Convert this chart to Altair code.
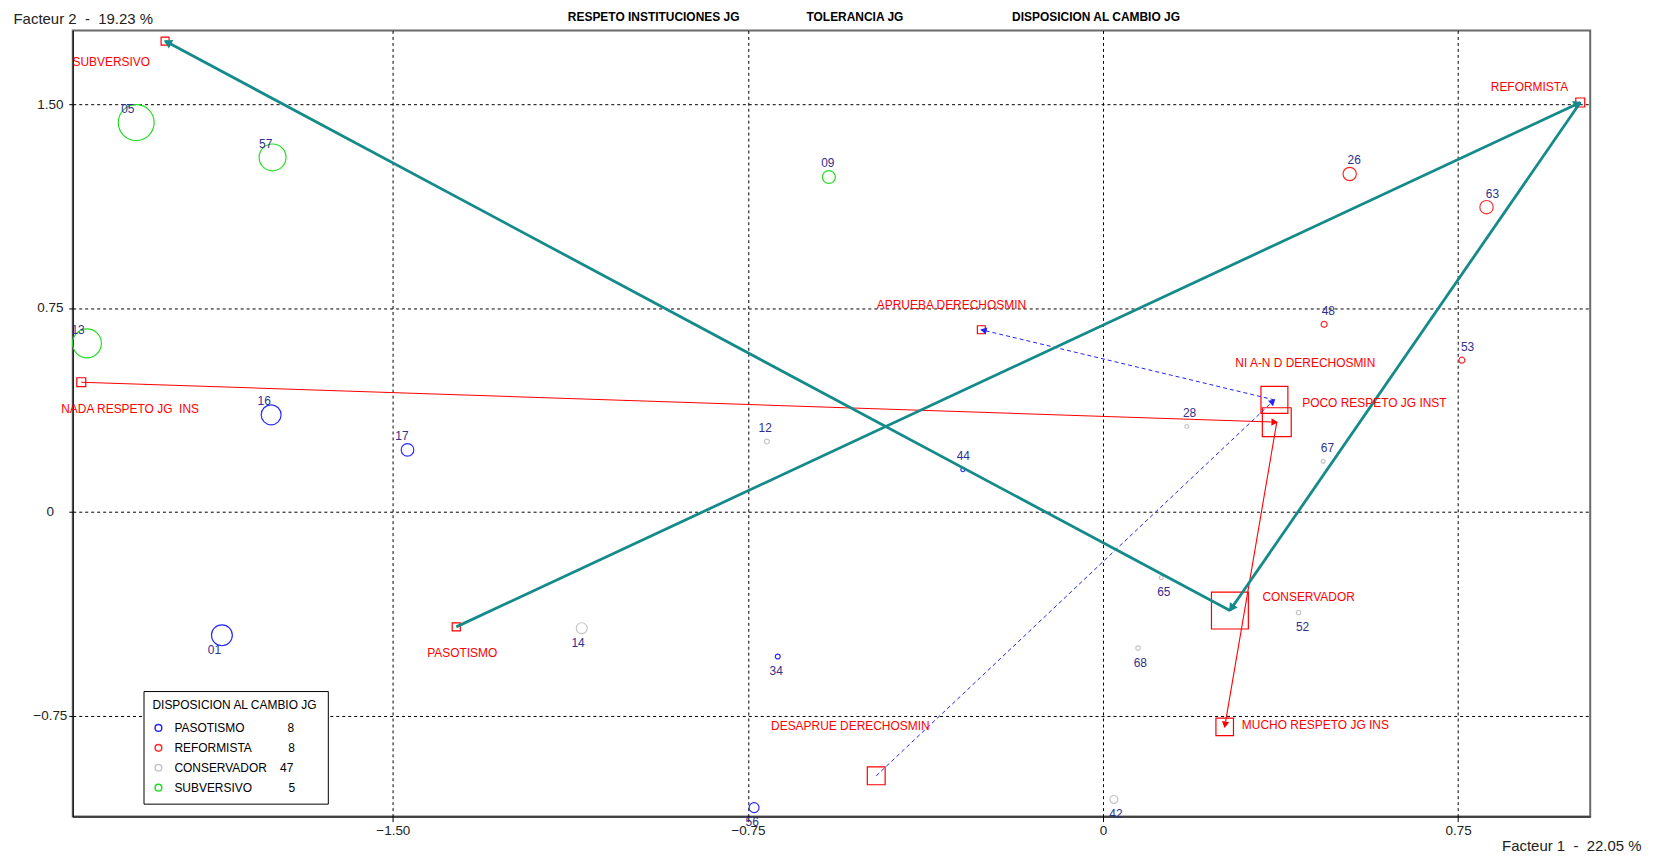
import math
import altair as alt
import pandas as pd

# ------------------------------------------------------------------ data
# modalities (red squares) of the three active variables
cat_names = ["SUBVERSIVO", "REFORMISTA", "PASOTISMO", "CONSERVADOR",
             "APRUEBA DERECHOSMIN", "NI A-N D DERECHOSMIN", "DESAPRUE DERECHOSMIN",
             "NADA RESPETO JG\u00a0 INS", "POCO RESPETO JG INST", "MUCHO RESPETO JG INS"]
cat_x = [-1.981, 1.008, -1.366, 0.268, -0.257, 0.362, -0.479, -2.158, 0.367, 0.257]
cat_y = [1.732, 1.506, -0.423, -0.363, 0.670, 0.412, -0.971, 0.477, 0.330, -0.791]
cat_peso = [6.4, 8.1, 6.7, 137.0, 6.4, 73.0, 32.0, 8.1, 84.0, 31.0]
# label offsets (px) relative to the square
cat_lab_dx = [-54, -51, 6, 79, -30, 31, -26, 49, 98, 91]
cat_lab_dy = [21, -16, 26, -14, -25, -37, -50, 27, -19, -2]

# individuals (circles)
pt_ids = ["05", "57", "09", "13", "16", "17", "01", "14", "12", "34", "56",
          "42", "44", "28", "67", "53", "48", "26", "63", "65", "52", "68"]
pt_group = ["SUBVERSIVO", "SUBVERSIVO", "SUBVERSIVO", "SUBVERSIVO", "PASOTISMO",
            "PASOTISMO", "PASOTISMO", "CONSERVADOR", "CONSERVADOR", "PASOTISMO",
            "PASOTISMO", "CONSERVADOR", "PASOTISMO", "CONSERVADOR", "CONSERVADOR",
            "REFORMISTA", "REFORMISTA", "REFORMISTA", "REFORMISTA", "CONSERVADOR",
            "CONSERVADOR", "CONSERVADOR"]
pt_x = [-2.042, -1.754, -0.579, -2.146, -1.757, -1.469, -1.861, -1.101, -0.710, -0.687,
        -0.737, 0.023, -0.296, 0.177, 0.465, 0.758, 0.467, 0.521, 0.810, 0.123, 0.413, 0.074]
pt_y = [1.432, 1.304, 1.232, 0.620, 0.357, 0.228, -0.454, -0.428, 0.259, -0.532,
        -1.088, -1.058, 0.155, 0.314, 0.186, 0.558, 0.690, 1.243, 1.121, -0.242, -0.370, -0.501]
pt_peso = [324, 182, 42, 210, 100, 40, 110, 30, 6, 6, 25, 16, 4, 4, 4, 9, 9, 45, 45, 4, 5, 5]
pt_side = ["above", "above", "above", "above", "above", "above", "below", "below", "above",
           "below", "below", "below", "above", "above", "above", "above", "above", "above",
           "above", "below", "below", "below"]

group_order = ["PASOTISMO", "REFORMISTA", "CONSERVADOR", "SUBVERSIVO"]
group_n = [8, 8, 47, 5]
group_colors = ["#2a2aff", "#ff2a2a", "#c6c6c6", "#22dd22"]

path_cambio = ["PASOTISMO", "REFORMISTA", "CONSERVADOR", "SUBVERSIVO"]
path_respeto = ["NADA RESPETO JG\u00a0 INS", "POCO RESPETO JG INST", "MUCHO RESPETO JG INS"]
path_tolerancia = ["DESAPRUE DERECHOSMIN", "NI A-N D DERECHOSMIN", "APRUEBA DERECHOSMIN"]

top_titles = ["RESPETO INSTITUCIONES JG", "TOLERANCIA JG", "DISPOSICION AL CAMBIO JG"]
x_ticks = [-1.5, -0.75, 0, 0.75]
y_ticks = [-0.75, 0, 0.75, 1.5]
NB = "\u00a0"
x_title = "Facteur 1" + NB * 2 + "-" + NB * 2 + "22.05 %"
y_title = "Facteur 2" + NB * 2 + "-" + NB * 2 + "19.23 %"

# ------------------------------------------------------------------ geometry
W, H = 1523, 789
XMIN, XMAX = -2.176, 1.029
YMIN, YMAX = -1.121, 1.771
PXX = W / (XMAX - XMIN)
PXY = H / (YMAX - YMIN)
xs = alt.Scale(domain=[XMIN, XMAX], nice=False, zero=False)
ys = alt.Scale(domain=[YMIN, YMAX], nice=False, zero=False)

FONT = "Liberation Sans, Arial, sans-serif"

cats = pd.DataFrame({"name": cat_names, "x": cat_x, "y": cat_y, "peso": cat_peso})
cats["lx"] = cats["x"] + pd.Series(cat_lab_dx) / PXX
cats["ly"] = cats["y"] - pd.Series(cat_lab_dy) / PXY
cpos = {n: (x, y) for n, x, y in zip(cat_names, cat_x, cat_y)}

pts = pd.DataFrame({"id": pt_ids, "grupo": pt_group, "x": pt_x, "y": pt_y,
                    "peso": pt_peso, "side": pt_side})
dxp = 5.05 * pts["x"] + 1.9
dyp = pts["side"].map({"above": -13.6, "below": 14.6})
pts["lx"] = pts["x"] + dxp / PXX
pts["ly"] = pts["y"] - dyp / PXY


def segments(path, head):
    segs, heads = [], []
    r = math.sqrt(head) / 2
    for a, b in zip(path[:-1], path[1:]):
        x1, y1 = cpos[a]
        x2, y2 = cpos[b]
        segs.append({"x": x1, "y": y1, "x2": x2, "y2": y2})
        dx = (x2 - x1) * PXX
        dy = -(y2 - y1) * PXY
        L = math.hypot(dx, dy)
        ux, uy = dx / L, dy / L
        back = 0.866 * r
        hx = x2 - ux * back / PXX
        hy = y2 + uy * back / PXY
        ang = math.degrees(math.atan2(dx, -dy)) % 360
        heads.append({"x": hx, "y": hy, "ang": ang})
    return pd.DataFrame(segs), pd.DataFrame(heads)


seg_c, head_c = segments(path_cambio, 90)
seg_r, head_r = segments(path_respeto, 55)
seg_t, head_t = segments(path_tolerancia, 55)

# ------------------------------------------------------------------ axes / legend
x_axis = alt.Axis(values=x_ticks, grid=True, gridColor="black", gridDash=[3, 3], gridWidth=1,
                  domainColor="black", tickColor="black", tickSize=5,
                  labelFont=FONT, labelFontSize=13.5, labelColor="#222", labelPadding=2,
                  labelExpr="datum.value == 0 ? '0' : format(datum.value, '.2f')",
                  title=x_title, titleFont=FONT, titleFontSize=15,
                  titleFontWeight="normal", titleColor="#222", titleX=1434, titleY=29,
                  titleAlign="left", titleBaseline="middle")
y_axis = alt.Axis(values=y_ticks, grid=True, gridColor="black", gridDash=[3, 3], gridWidth=1,
                  domainColor="black", tickColor="black", tickSize=4,
                  labelFont=FONT, labelFontSize=13.5, labelColor="#222", labelPadding=19,
                  labelAlign="center", labelBaseline="middle",
                  labelExpr="datum.value == 0 ? '0' : format(datum.value, '.2f')",
                  title=y_title, titleFont=FONT, titleFontSize=15,
                  titleFontWeight="normal", titleColor="#222", titleAngle=0, titleX=-60,
                  titleY=-12, titleAlign="left", titleBaseline="middle")

pad_spaces = {"PASOTISMO": 13, "REFORMISTA": 11, "CONSERVADOR": 4, "SUBVERSIVO": 11}
lab_map = {g: g + NB * pad_spaces[g] + str(n) for g, n in zip(group_order, group_n)}
lab_expr = "{" + ",".join(f"'{k}':'{v}'" for k, v in lab_map.items()) + "}[datum.label]"

legend = alt.Legend(title="DISPOSICION AL CAMBIO JG", orient="none", legendX=71, legendY=663,
                    direction="vertical", fillColor="white", strokeColor="black",
                    padding=9, cornerRadius=0,
                    titleFont=FONT, titleFontSize=12, titleFontWeight="normal",
                    titleColor="black", titlePadding=10,
                    labelFont=FONT, labelFontSize=12, labelColor="black", labelOffset=10,
                    symbolType="circle", symbolSize=45, symbolStrokeWidth=1.5,
                    rowPadding=6, labelExpr=lab_expr)


def X(field):
    return alt.X(field, scale=xs, axis=x_axis)


def Y(field):
    return alt.Y(field, scale=ys, axis=y_axis)


# ------------------------------------------------------------------ layers
points = alt.Chart(pts).mark_point(shape="circle", filled=False, strokeWidth=1.2, opacity=1).encode(
    x=X("x:Q"), y=Y("y:Q"),
    color=alt.Color("grupo:N", scale=alt.Scale(domain=group_order, range=group_colors),
                    legend=legend),
    size=alt.Size("peso:Q", scale=alt.Scale(domain=[0, 324], range=[0, 1296]), legend=None),
)

squares = alt.Chart(cats).mark_point(shape="square", filled=False, color="#ff0000",
                                     strokeWidth=1.2, opacity=1).encode(
    x=X("x:Q"), y=Y("y:Q"),
    size=alt.Size("peso:Q", scale=alt.Scale(domain=[0, 137], range=[0, 1370]), legend=None),
)


def seg_layer(df, color, width, dash=None):
    kw = dict(color=color, strokeWidth=width)
    if dash:
        kw["strokeDash"] = dash
    return alt.Chart(df).mark_rule(**kw).encode(
        x=X("x:Q"), y=Y("y:Q"), x2="x2:Q", y2="y2:Q")


def head_layer(df, color, size):
    return alt.Chart(df).mark_point(shape="triangle", filled=True, color=color,
                                    size=size, opacity=1).encode(
        x=X("x:Q"), y=Y("y:Q"), angle=alt.Angle("ang:Q", scale=None))


TEAL = "#148a8a"
lines = [
    seg_layer(seg_r, "#ff0000", 1.1),
    seg_layer(seg_t, "#2222ff", 1.0, [4, 3]),
    seg_layer(seg_c, TEAL, 2.8),
    head_layer(head_r, "#ff0000", 55),
    head_layer(head_t, "#2222ff", 55),
    head_layer(head_c, TEAL, 90),
]

pt_labels = alt.Chart(pts).mark_text(font=FONT, fontSize=12, color="#30308f",
                                     baseline="middle", align="center").encode(
    x=X("lx:Q"), y=Y("ly:Q"), text="id:N")

cat_labels = alt.Chart(cats).mark_text(font=FONT, fontSize=12, color="#ff0000",
                                       baseline="middle", align="center").encode(
    x=X("lx:Q"), y=Y("ly:Q"), text="name:N")

one = pd.DataFrame({"k": [0]})
title_px = [583, 785, 1027]
titles = [
    alt.Chart(one).mark_text(font="Liberation Sans Narrow, Arial Narrow, Liberation Sans",
                             fontSize=12, fontWeight="bold", color="black",
                             baseline="middle", align="center").encode(
        x=alt.value(px), y=alt.value(-14), text=alt.value(t))
    for t, px in zip(top_titles, title_px)
]

chart = alt.layer(points, squares, *lines, pt_labels, cat_labels, *titles).resolve_scale(
    size="independent"
).properties(
    width=W, height=H,
    autosize=alt.AutoSizeParams(type="none"),
    padding={"left": 65, "top": 21, "right": 58, "bottom": 40},
    background="white",
).configure_view(stroke="#6a6a6a", strokeWidth=2)

chart.save("out.html", embed_options={"renderer": "svg", "actions": False})
